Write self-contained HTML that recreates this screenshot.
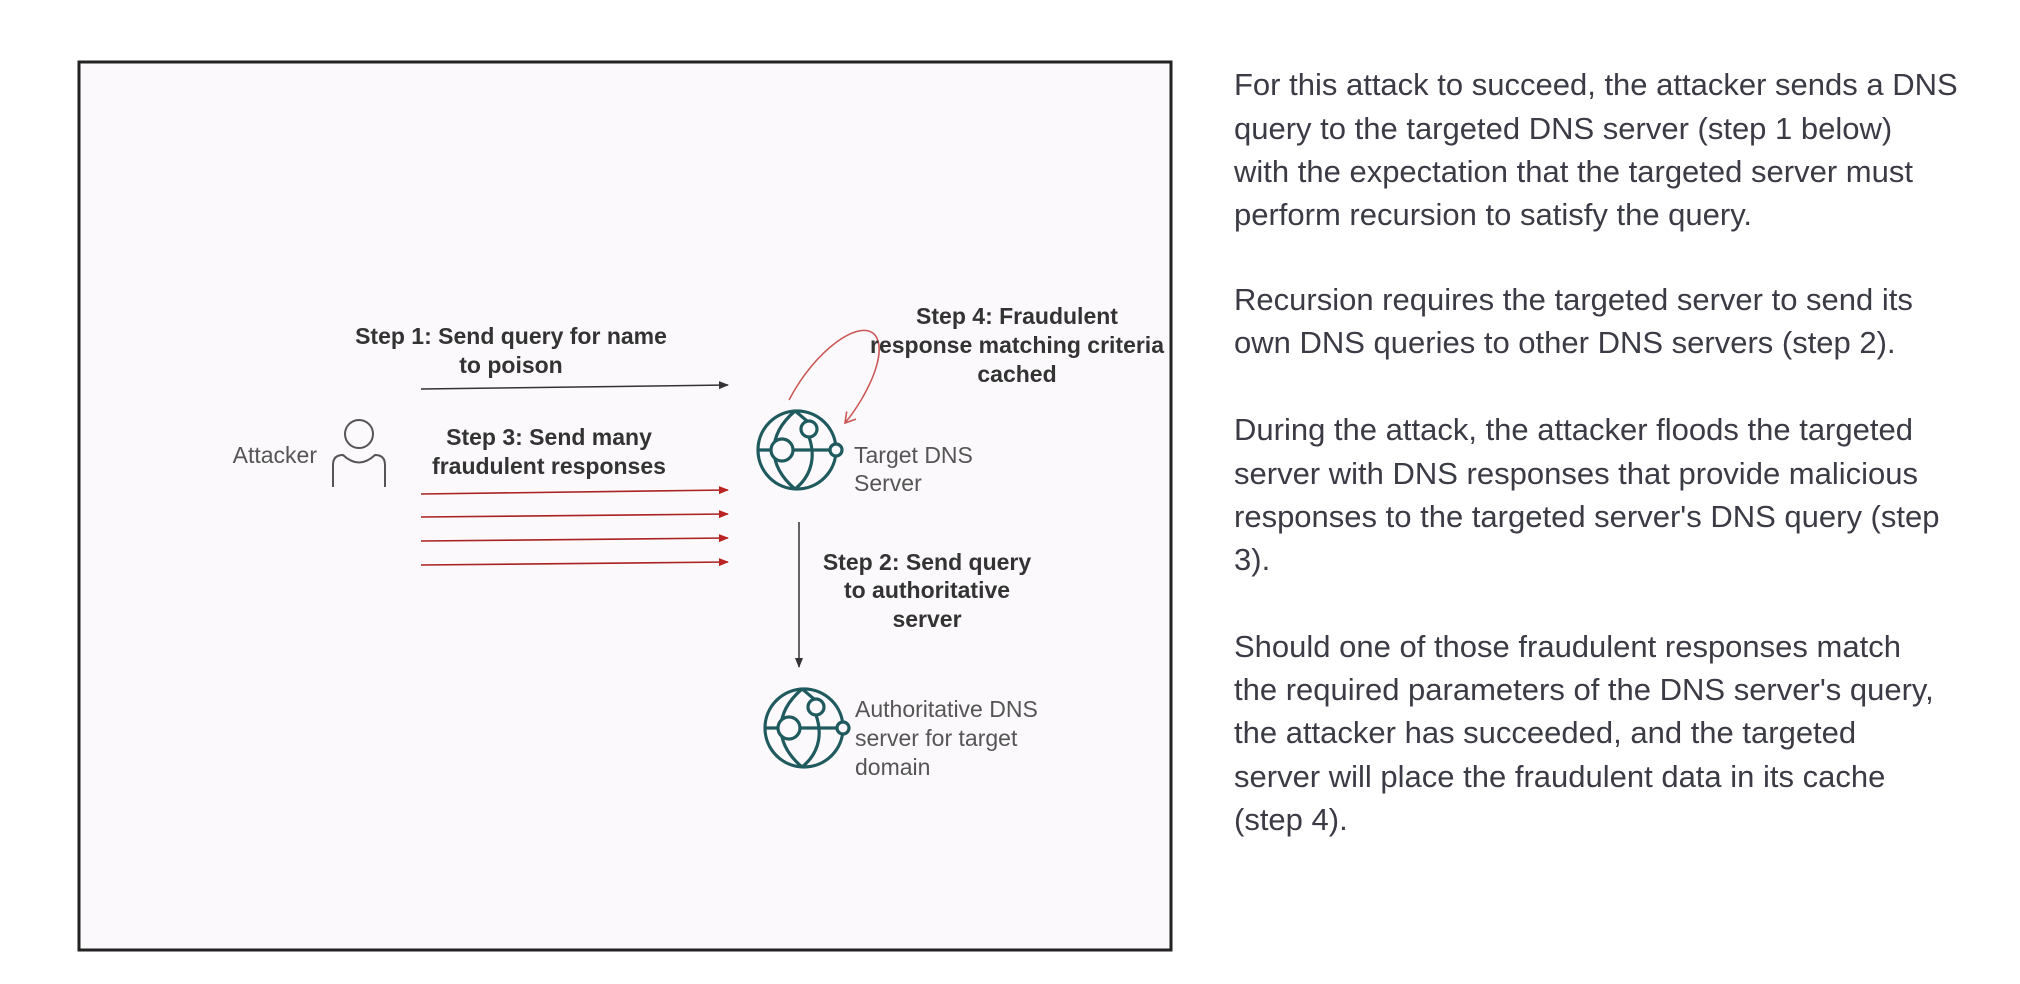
<!DOCTYPE html>
<html><head><meta charset="utf-8"><style>
html,body{margin:0;padding:0;background:#fff;width:2020px;height:984px;overflow:hidden}
svg{display:block}
.t{font-family:"Liberation Sans",sans-serif;font-size:31px;fill:#3a3b44}
.b{font-family:"Liberation Sans",sans-serif;font-size:23px;font-weight:bold;fill:#333}
.r{font-family:"Liberation Sans",sans-serif;font-size:23px;fill:#555}
</style></head><body>
<svg width="2020" height="984" viewBox="0 0 2020 984">
<defs>
<marker id="ak" markerWidth="10" markerHeight="10" refX="9" refY="5" orient="auto" markerUnits="userSpaceOnUse"><path d="M0,1 L10,5 L0,9 z" fill="#333"/></marker>
<marker id="ar" markerWidth="10" markerHeight="10" refX="9" refY="5" orient="auto" markerUnits="userSpaceOnUse"><path d="M0,1 L10,5 L0,9 z" fill="#b22"/></marker>
<marker id="ao" markerWidth="14" markerHeight="14" refX="11" refY="7" orient="auto" markerUnits="userSpaceOnUse"><path d="M1,1 L11,7 L1,13" fill="none" stroke="#c55" stroke-width="1.6"/></marker>
<g id="globe" fill="none" stroke="#1f5a5e" stroke-width="3.2">
<circle cx="0" cy="0" r="39"/>
<path d="M-39,0 H34"/>
<path d="M-2,-39 C-30,-15 -30,15 -2,39"/>
<path d="M-2,-39 C6,-33 10,-28 12,-29"/>
<path d="M12,-13 C20,10 12,28 -2,39"/>
<circle cx="-15" cy="0" r="11" fill="#fbf9fb"/>
<circle cx="12" cy="-21" r="8" fill="#fbf9fb"/>
<circle cx="39" cy="0" r="6" fill="#fbf9fb"/>
</g>
</defs>
<rect x="79" y="62" width="1092" height="888" fill="#fbf9fb" stroke="#222" stroke-width="3"/>
<text class="b" x="511" y="344" text-anchor="middle">Step 1: Send query for name</text>
<text class="b" x="511" y="373" text-anchor="middle">to poison</text>
<line x1="421" y1="389" x2="728" y2="385" stroke="#333" stroke-width="1.5" marker-end="url(#ak)"/>
<text class="b" x="549" y="445" text-anchor="middle">Step 3: Send many</text>
<text class="b" x="549" y="474" text-anchor="middle">fraudulent responses</text>
<g stroke="#a22" stroke-width="1.6">
<line x1="421" y1="494" x2="728" y2="490" marker-end="url(#ar)"/>
<line x1="421" y1="517" x2="728" y2="514" marker-end="url(#ar)"/>
<line x1="421" y1="541" x2="728" y2="538" marker-end="url(#ar)"/>
<line x1="421" y1="565" x2="728" y2="562" marker-end="url(#ar)"/>
</g>
<text class="r" x="317" y="463" text-anchor="end">Attacker</text>
<g fill="none" stroke="#555" stroke-width="2">
<circle cx="359" cy="434" r="14"/>
<path d="M333,487 V465 Q333,455 343,455 Q359,470 375,455 Q385,455 385,465 V487"/>
</g>
<use href="#globe" x="797" y="450"/>
<text class="r" x="854" y="463">Target DNS</text>
<text class="r" x="854" y="491">Server</text>
<path d="M789,400 C815,350 860,318 875,335 C888,352 868,395 845,423" fill="none" stroke="#c55" stroke-width="1.5" marker-end="url(#ao)"/>
<text class="b" x="1017" y="324" text-anchor="middle">Step 4: Fraudulent</text>
<text class="b" x="1017" y="353" text-anchor="middle">response matching criteria</text>
<text class="b" x="1017" y="382" text-anchor="middle">cached</text>
<rect x="1172" y="300" width="20" height="100" fill="#fff"/>
<line x1="1171" y1="300" x2="1171" y2="400" stroke="#222" stroke-width="3"/>
<line x1="799" y1="522" x2="799" y2="667" stroke="#333" stroke-width="1.5" marker-end="url(#ak)"/>
<text class="b" x="927" y="570" text-anchor="middle">Step 2: Send query</text>
<text class="b" x="927" y="598" text-anchor="middle">to authoritative</text>
<text class="b" x="927" y="627" text-anchor="middle">server</text>
<use href="#globe" x="804" y="728"/>
<text class="r" x="855" y="717">Authoritative DNS</text>
<text class="r" x="855" y="746">server for target</text>
<text class="r" x="855" y="775">domain</text>
<g class="t">
<text x="1234" y="95">For this attack to succeed, the attacker sends a DNS</text>
<text x="1234" y="139">query to the targeted DNS server (step 1 below)</text>
<text x="1234" y="182">with the expectation that the targeted server must</text>
<text x="1234" y="225">perform recursion to satisfy the query.</text>
<text x="1234" y="310">Recursion requires the targeted server to send its</text>
<text x="1234" y="353">own DNS queries to other DNS servers (step 2).</text>
<text x="1234" y="440">During the attack, the attacker floods the targeted</text>
<text x="1234" y="484">server with DNS responses that provide malicious</text>
<text x="1234" y="527">responses to the targeted server's DNS query (step</text>
<text x="1234" y="570">3).</text>
<text x="1234" y="657">Should one of those fraudulent responses match</text>
<text x="1234" y="700">the required parameters of the DNS server's query,</text>
<text x="1234" y="743">the attacker has succeeded, and the targeted</text>
<text x="1234" y="787">server will place the fraudulent data in its cache</text>
<text x="1234" y="830">(step 4).</text>
</g>
</svg>
</body></html>
